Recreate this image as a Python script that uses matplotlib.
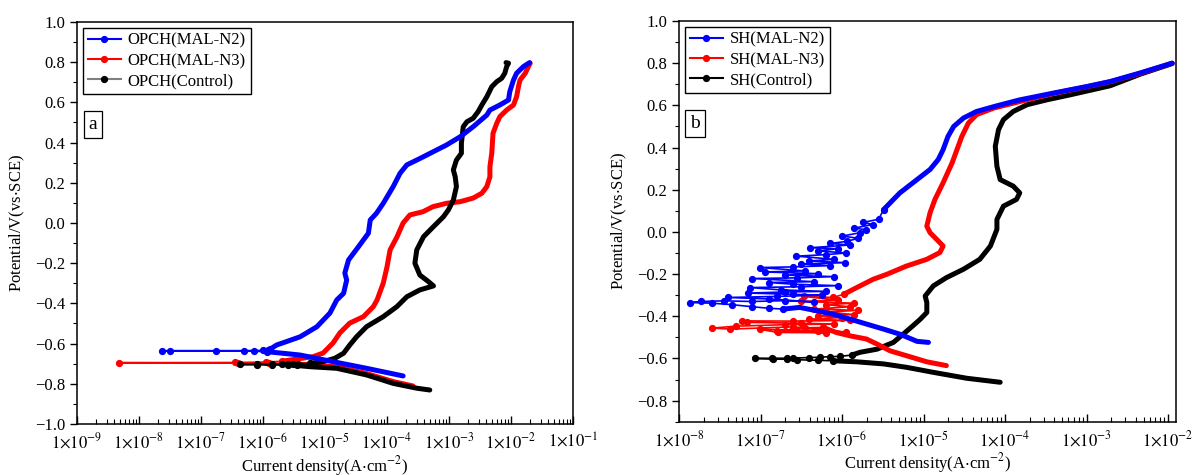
import numpy as np
import matplotlib
matplotlib.use("Agg")
import matplotlib.pyplot as plt
from matplotlib.lines import Line2D
from matplotlib.ticker import LogLocator, MultipleLocator, FuncFormatter, NullFormatter

plt.rcParams['font.family'] = ['Liberation Serif', 'DejaVu Serif']
plt.rcParams['mathtext.fontset'] = 'stix'
plt.rcParams['font.size'] = 12

# ---- panel a (OPCH) : log10(current density, A/cm2) and potential (V vs SCE)
# each curve: cathodic branch (from its end to Ecorr), sparse points near Ecorr, anodic branch
a_n2_cath_logi = [-3.74, -4.33, -4.87, -5.40, -5.94]
a_n2_cath_E = [-0.761, -0.723, -0.690, -0.657, -0.640]
a_n2_tail_logi = [-6.15, -6.75, -7.63, -7.50, -6.31, -6.00, -5.92]
a_n2_tail_E = [-0.638, -0.637, -0.636, -0.635, -0.635, -0.634, -0.633]
a_n2_anod_logi = [-5.88, -5.78, -5.62, -5.40, -5.13, -4.92, -4.81, -4.70, -4.65, -4.68,
                  -4.62, -4.46, -4.30, -4.27, -4.17, -4.06, -3.90, -3.79, -3.68, -3.52,
                  -3.41, -3.20, -3.04, -2.82, -2.61, -2.39, -2.34, -2.18, -2.04, -2.02,
                  -1.96, -1.91, -1.80, -1.70]
a_n2_anod_E = [-0.627, -0.607, -0.590, -0.566, -0.516, -0.448, -0.383, -0.350, -0.284, -0.249,
               -0.184, -0.118, -0.051, 0.015, 0.048, 0.098, 0.181, 0.247, 0.289, 0.313,
               0.330, 0.363, 0.388, 0.429, 0.479, 0.537, 0.562, 0.587, 0.612, 0.653,
               0.711, 0.745, 0.778, 0.798]

a_n3_cath_logi = [-3.58, -3.90, -4.33, -4.81, -5.24, -5.68]
a_n3_cath_E = [-0.811, -0.789, -0.749, -0.716, -0.706, -0.699]
a_n3_tail_logi = [-5.90, -6.40, -8.33, -6.45, -5.95]
a_n3_tail_E = [-0.698, -0.697, -0.695, -0.694, -0.692]
a_n3_anod_logi = [-5.70, -5.46, -5.19, -5.03, -4.87, -4.76, -4.60, -4.38, -4.22, -4.16,
                  -4.06, -4.00, -3.95, -3.84, -3.74, -3.63, -3.42, -3.26, -3.04, -2.82,
                  -2.61, -2.47, -2.39, -2.34, -2.34, -2.31, -2.29, -2.23, -2.18, -2.07,
                  -1.96, -1.91, -1.88, -1.855, -1.77, -1.72, -1.69]
a_n3_anod_E = [-0.688, -0.677, -0.665, -0.647, -0.597, -0.547, -0.498, -0.466, -0.416, -0.383,
               -0.299, -0.219, -0.134, -0.070, 0.000, 0.040, 0.056, 0.081, 0.098, 0.106,
               0.124, 0.148, 0.181, 0.230, 0.280, 0.347, 0.446, 0.496, 0.529, 0.562,
               0.587, 0.628, 0.678, 0.711, 0.745, 0.778, 0.795]

a_ct_cath_logi = [-3.31, -3.52, -3.90, -4.33, -4.81, -5.24, -5.45]
a_ct_cath_E = [-0.831, -0.822, -0.798, -0.756, -0.723, -0.715, -0.709]
a_ct_tail_logi = [-5.59, -5.86, -6.10, -6.37, -6.10, -5.86, -5.70, -5.59, -5.51, -5.43]
a_ct_tail_E = [-0.708, -0.706, -0.705, -0.704, -0.703, -0.703, -0.702, -0.702, -0.701, -0.700]
a_ct_anod_logi = [-5.24, -5.03, -4.84, -4.70, -4.60, -4.49, -4.33, -4.06, -3.84, -3.68,
                  -3.47, -3.25, -3.33, -3.47, -3.55, -3.52, -3.41, -3.25, -3.09, -3.01,
                  -2.93, -2.88, -2.90, -2.93, -2.88, -2.80, -2.80, -2.77, -2.71, -2.61,
                  -2.53, -2.47, -2.39, -2.31, -2.23, -2.15, -2.10, -2.07, -2.04, -2.08]
a_ct_anod_E = [-0.698, -0.690, -0.673, -0.648, -0.607, -0.566, -0.516, -0.466, -0.416, -0.367,
               -0.333, -0.313, -0.292, -0.259, -0.200, -0.134, -0.068, -0.018, 0.031, 0.065,
               0.114, 0.181, 0.230, 0.264, 0.313, 0.347, 0.397, 0.479, 0.504, 0.521,
               0.554, 0.587, 0.628, 0.678, 0.703, 0.720, 0.745, 0.778, 0.795, 0.798]

# ---- panel b (SH)
b_n2_cath_logi = [-4.94, -5.08, -5.29, -5.49, -5.70, -5.90, -6.11, -6.31, -6.52, -6.72]
b_n2_cath_E = [-0.524, -0.519, -0.485, -0.461, -0.437, -0.414, -0.390, -0.374, -0.358, -0.366]
b_n2_tail_logi = [-6.90, -7.10, -7.35, -7.60, -7.87, -7.73, -7.45, -7.10, -6.70, -6.35,
                  -6.90, -7.40, -6.80, -6.25, -6.60, -7.15, -6.70, -6.20, -6.75, -7.13,
                  -6.50, -6.05, -6.60, -6.90, -6.35, -7.11, -6.55, -6.10, -6.70, -6.30,
                  -6.95, -6.45, -7.01, -6.60, -6.15, -6.50, -5.96, -6.40, -6.10, -6.56,
                  -6.20, -5.95, -6.30, -6.05, -6.39, -5.90, -6.15, -5.94, -5.80, -6.00,
                  -5.78, -5.70, -5.85, -5.62, -5.74, -5.55]
b_n2_tail_E = [-0.362, -0.355, -0.345, -0.338, -0.335, -0.330, -0.327, -0.330, -0.326, -0.332,
               -0.318, -0.311, -0.306, -0.300, -0.296, -0.290, -0.285, -0.282, -0.275, -0.264,
               -0.260, -0.255, -0.248, -0.240, -0.236, -0.221, -0.218, -0.212, -0.205, -0.198,
               -0.190, -0.185, -0.169, -0.166, -0.160, -0.152, -0.146, -0.138, -0.130, -0.115,
               -0.108, -0.100, -0.090, -0.080, -0.075, -0.062, -0.055, -0.045, -0.030, -0.020,
               -0.004, 0.010, 0.018, 0.035, 0.045, 0.060]
b_n2_anod_logi = [-5.49, -5.29, -5.08, -4.92, -4.82, -4.76, -4.70, -4.63, -4.51,
                  -4.35, -4.10, -3.82, -3.41, -3.00, -2.71, -2.34, -1.95]
b_n2_anod_E = [0.106, 0.185, 0.248, 0.296, 0.343, 0.390, 0.453, 0.500, 0.540,
               0.571, 0.598, 0.626, 0.658, 0.689, 0.713, 0.754, 0.800]

b_n3_cath_logi = [-4.72, -4.96, -5.21, -5.41, -5.57, -5.70, -5.90, -6.07, -6.23]
b_n3_cath_E = [-0.634, -0.616, -0.587, -0.564, -0.532, -0.508, -0.493, -0.477, -0.453]
b_n3_tail_logi = [-6.45, -6.80, -6.20, -6.78, -7.01, -6.30, -5.95, -6.60, -7.37, -7.59,
                  -7.30, -6.70, -6.10, -6.50, -7.17, -7.23, -6.60, -5.90, -6.40, -6.00,
                  -6.30, -5.85, -6.20, -5.80, -6.35, -5.90, -6.20, -5.85, -6.50, -6.05,
                  -6.47, -6.11]
b_n3_tail_E = [-0.455, -0.470, -0.478, -0.477, -0.462, -0.468, -0.475, -0.450, -0.461, -0.456,
               -0.447, -0.440, -0.437, -0.433, -0.429, -0.422, -0.423, -0.420, -0.414, -0.406,
               -0.398, -0.392, -0.380, -0.372, -0.366, -0.355, -0.345, -0.338, -0.330, -0.324,
               -0.306, -0.311]
b_n3_anod_logi = [-5.98, -5.82, -5.62, -5.45, -5.21, -4.96, -4.80, -4.76, -4.84, -4.92,
                  -4.96, -4.92, -4.86, -4.76, -4.65, -4.59, -4.53, -4.45, -4.35, -4.14,
                  -3.82, -3.41, -3.00, -2.71, -2.34, -1.95]
b_n3_anod_E = [-0.296, -0.264, -0.225, -0.201, -0.162, -0.130, -0.098, -0.067, -0.035, -0.004,
               0.027, 0.091, 0.154, 0.233, 0.327, 0.390, 0.453, 0.516, 0.556, 0.587,
               0.618, 0.656, 0.688, 0.712, 0.752, 0.800]

b_ct_cath_logi = [-4.06, -4.47, -4.88, -5.21, -5.49, -5.82, -6.11]
b_ct_cath_E = [-0.713, -0.694, -0.666, -0.642, -0.626, -0.616, -0.611]
b_ct_tail_logi = [-6.30, -6.55, -6.67, -6.85, -7.07, -6.86, -6.67, -6.60, -6.40, -6.27, -6.15, -6.02]
b_ct_tail_E = [-0.609, -0.606, -0.604, -0.603, -0.600, -0.599, -0.599, -0.598, -0.596, -0.594, -0.592, -0.590]
b_ct_anod_logi = [-5.88, -5.78, -5.57, -5.37, -5.25, -5.13, -5.04, -4.96, -4.96, -4.98,
                  -4.88, -4.72, -4.51, -4.31, -4.18, -4.10, -4.10, -4.02, -3.86, -3.82,
                  -3.90, -4.06, -4.10, -4.12, -4.08, -4.02, -3.90, -3.73, -3.49, -3.20,
                  -2.71, -2.34, -1.95]
b_ct_anod_E = [-0.584, -0.571, -0.556, -0.524, -0.485, -0.445, -0.414, -0.382, -0.335, -0.304,
               -0.256, -0.217, -0.177, -0.130, -0.067, 0.012, 0.059, 0.122, 0.154, 0.185,
               0.217, 0.248, 0.311, 0.406, 0.485, 0.532, 0.571, 0.603, 0.626, 0.650,
               0.693, 0.748, 0.798]

a_labels = ['OPCH(MAL-N2)', 'OPCH(MAL-N3)', 'OPCH(Control)']
b_labels = ['SH(MAL-N2)', 'SH(MAL-N3)', 'SH(Control)']
colors = ['#0000ff', '#ff0000', '#000000']


def draw_curve(ax, cath_i, cath_E, tail_i, tail_E, anod_i, anod_E, color):
    # dense parts of the scan look like a thick line
    ax.plot(10.0 ** np.array(cath_i), cath_E, color=color, lw=3.6,
            solid_capstyle='round', solid_joinstyle='round')
    ax.plot(10.0 ** np.array(anod_i), anod_E, color=color, lw=3.6,
            solid_capstyle='round', solid_joinstyle='round')
    # sparse points around Ecorr: thin line with dots
    ti = np.concatenate([cath_i[-1:], tail_i, anod_i[:1]])
    tE = np.concatenate([cath_E[-1:], tail_E, anod_E[:1]])
    ax.plot(10.0 ** ti, tE, color=color, lw=1.2, marker='o', ms=4.2, mec=color)


def sci_label(v, pos):
    return r'$1{\times}10^{%d}$' % int(round(np.log10(v)))


def pot_label(v, pos):
    if abs(v) < 1e-9:
        return '0.0'
    return ('%.1f' % v).replace('-', '\u2212')


def style_axes(ax, xlim, ylim):
    ax.set_xscale('log')
    ax.set_xlim(*xlim)
    ax.set_ylim(*ylim)
    ax.xaxis.set_major_locator(LogLocator(base=10, numticks=20))
    ax.xaxis.set_minor_locator(LogLocator(base=10, subs=np.arange(2, 10), numticks=20))
    ax.xaxis.set_major_formatter(FuncFormatter(sci_label))
    ax.xaxis.set_minor_formatter(NullFormatter())
    ax.yaxis.set_major_locator(MultipleLocator(0.2))
    ax.yaxis.set_minor_locator(MultipleLocator(0.1))
    ax.yaxis.set_major_formatter(FuncFormatter(pot_label))
    ax.tick_params(axis='x', which='both', direction='in', top=False, labelsize=12, pad=6)
    ax.tick_params(axis='x', which='major', length=6, width=1.0)
    ax.tick_params(axis='x', which='minor', length=3.5, width=0.8)
    ax.tick_params(axis='y', which='both', direction='out', right=False, labelsize=12)
    ax.tick_params(axis='y', which='major', length=5, width=1.0)
    ax.tick_params(axis='y', which='minor', length=3, width=0.8)
    for s in ax.spines.values():
        s.set_linewidth(1.1)
    ax.set_xlabel(r'Current density(A$\cdot$cm$^{-2}$)', fontsize=12, labelpad=1)
    ax.set_ylabel(r'Potential/V(vs$\cdot$SCE)', fontsize=12, labelpad=6)


fig = plt.figure(figsize=(11.95, 4.75), dpi=100)
ax_a = fig.add_axes([0.0644, 0.1074, 0.4151, 0.8463])
ax_b = fig.add_axes([0.5682, 0.1122, 0.4159, 0.8436])

# panel a: red under black, blue on top
draw_curve(ax_a, a_n3_cath_logi, a_n3_cath_E, a_n3_tail_logi, a_n3_tail_E,
           a_n3_anod_logi, a_n3_anod_E, colors[1])
draw_curve(ax_a, a_ct_cath_logi, a_ct_cath_E, a_ct_tail_logi, a_ct_tail_E,
           a_ct_anod_logi, a_ct_anod_E, colors[2])
draw_curve(ax_a, a_n2_cath_logi, a_n2_cath_E, a_n2_tail_logi, a_n2_tail_E,
           a_n2_anod_logi, a_n2_anod_E, colors[0])

# panel b: black, red, blue
draw_curve(ax_b, b_ct_cath_logi, b_ct_cath_E, b_ct_tail_logi, b_ct_tail_E,
           b_ct_anod_logi, b_ct_anod_E, colors[2])
draw_curve(ax_b, b_n3_cath_logi, b_n3_cath_E, b_n3_tail_logi, b_n3_tail_E,
           b_n3_anod_logi, b_n3_anod_E, colors[1])
draw_curve(ax_b, b_n2_cath_logi, b_n2_cath_E, b_n2_tail_logi, b_n2_tail_E,
           b_n2_anod_logi, b_n2_anod_E, colors[0])

style_axes(ax_a, (1e-9, 1e-1), (-1.0, 1.0))
style_axes(ax_b, (1e-8, 1.25e-2), (-0.9, 1.0))

for ax, labels, line_cols in [(ax_a, a_labels, ['#0000ff', '#ff0000', '#808080']),
                              (ax_b, b_labels, colors)]:
    handles = [Line2D([], [], color=lc, lw=1.5, marker='o', ms=4.2, mfc=c, mec=c)
               for lc, c in zip(line_cols, colors)]
    leg = ax.legend(handles, labels, loc='upper left', frameon=True, fancybox=False,
                    edgecolor='black', framealpha=1, borderaxespad=0.35, borderpad=0.3,
                    handlelength=2.0, handletextpad=0.4, labelspacing=0.25, fontsize=12)
    leg.get_frame().set_linewidth(1.0)

for ax, tag in [(ax_a, 'a'), (ax_b, 'b')]:
    ax.text(0.032, 0.745, tag, transform=ax.transAxes, fontsize=14,
            ha='center', va='center',
            bbox=dict(boxstyle='square,pad=0.25', fc='white', ec='black', lw=0.9))

fig.savefig('out.png', dpi=100)
